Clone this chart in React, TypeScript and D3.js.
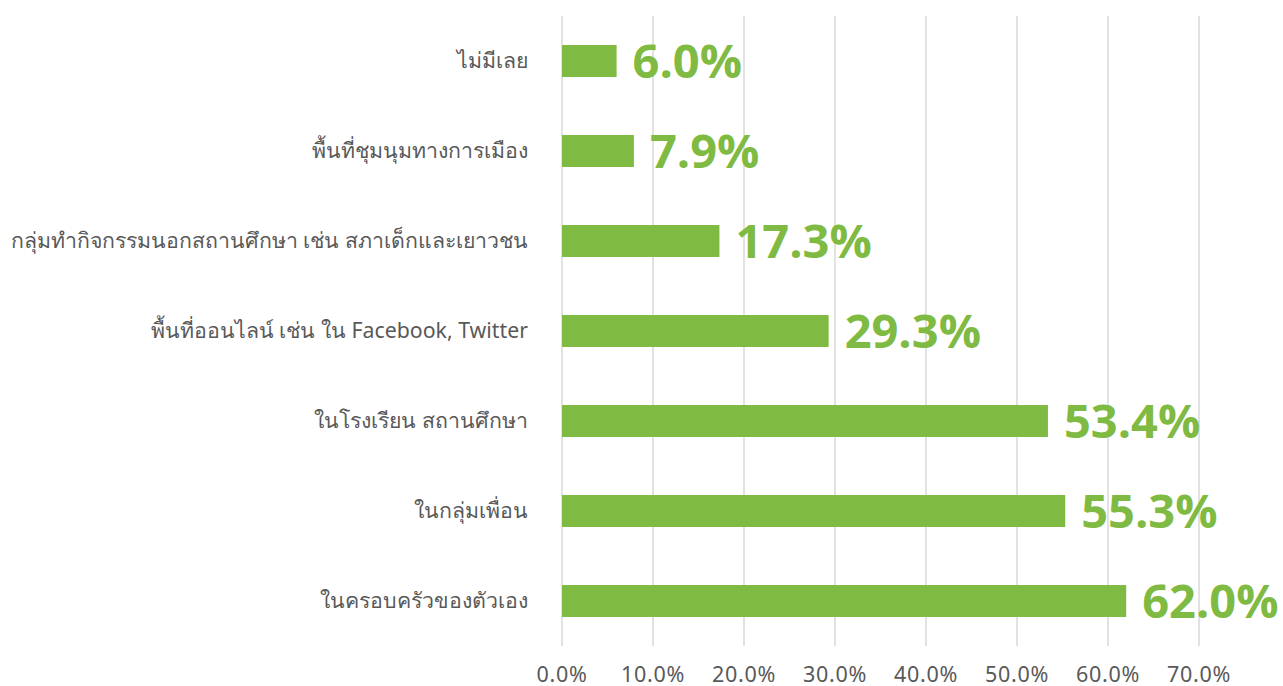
import React from "react";
import * as d3 from "d3";

const categories = [
  "ไม่มีเลย",
  "พื้นที่ชุมนุมทางการเมือง",
  "กลุ่มทำกิจกรรมนอกสถานศึกษา เช่น สภาเด็กและเยาวชน",
  "พื้นที่ออนไลน์ เช่น ใน Facebook, Twitter",
  "ในโรงเรียน สถานศึกษา",
  "ในกลุ่มเพื่อน",
  "ในครอบครัวของตัวเอง",
];
const values = [6.0, 7.9, 17.3, 29.3, 53.4, 55.3, 62.0];
const ticks = [0, 10, 20, 30, 40, 50, 60, 70];

const W = 1283;
const H = 686;
const left = 562;
const right = 1199;
const top = 16;
const bottom = 646;

export default function App() {
  const x = d3.scaleLinear().domain([0, 70]).range([left, right]);
  const y = d3
    .scaleBand<string>()
    .domain(categories)
    .range([top, bottom])
    .paddingInner(0.645)
    .paddingOuter(0.3225);
  const green = "#7fba42";
  return (
    <svg
      width={W}
      height={H}
      style={{ position: "absolute", left: 0, top: 0 }}
      fontFamily="'Noto Sans', 'Open Sans', sans-serif"
    >
      <rect width={W} height={H} fill="#fff" />
      {ticks.map((t) => (
        <g key={t}>
          <line
            x1={x(t)}
            x2={x(t)}
            y1={top}
            y2={bottom}
            stroke="#d9d9d9"
            strokeWidth={1.5}
          />
          <text
            x={x(t)}
            y={682}
            textAnchor="middle"
            fontSize={21.5}
            letterSpacing={0.7}
            fill="#595959"
          >
            {t.toFixed(1) + "%"}
          </text>
        </g>
      ))}
      {categories.map((c, i) => {
        const yy = y(c)!;
        const bw = y.bandwidth();
        return (
          <g key={c}>
            <rect
              x={x(0)}
              y={yy}
              width={x(values[i]) - x(0)}
              height={bw}
              fill={green}
            />
            <text
              x={528}
              y={yy + bw / 2}
              dy="0.35em"
              textAnchor="end"
              fontSize={21.3}
              fill="#595959"
            >
              {c}
            </text>
            <text
              x={x(values[i]) + 16}
              y={yy + bw / 2}
              dy="0.36em"
              fontSize={47}
              fontWeight="bold"
              fontFamily="'Open Sans', sans-serif"
              fill={green}
            >
              {values[i].toFixed(1) + "%"}
            </text>
          </g>
        );
      })}
    </svg>
  );
}
